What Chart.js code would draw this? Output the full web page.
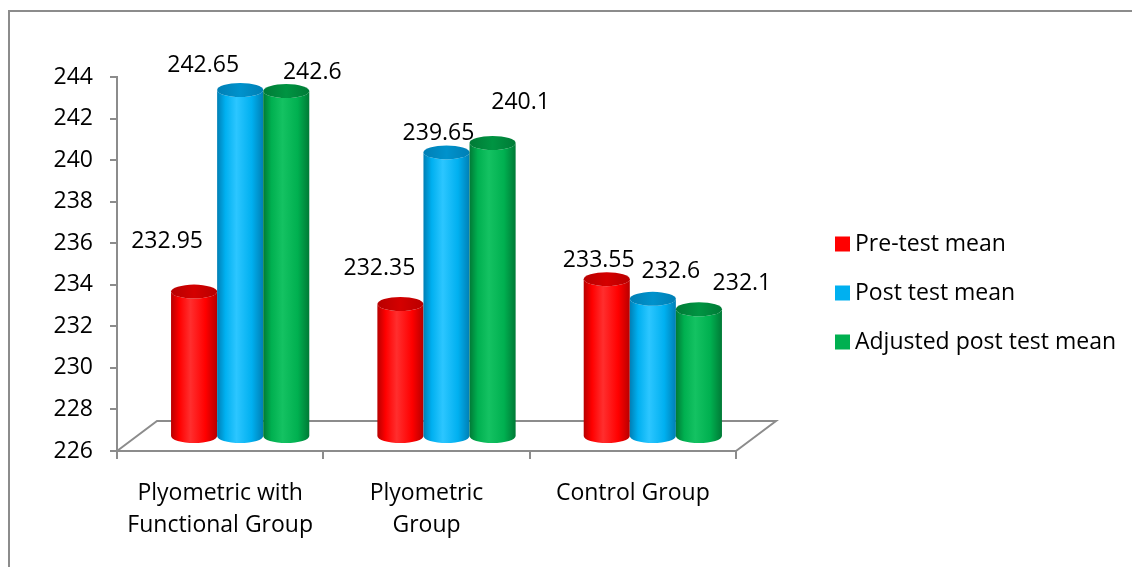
<!DOCTYPE html>
<html>
<head>
<meta charset="utf-8">
<script src="https://cdn.jsdelivr.net/npm/chart.js@4.4.1/dist/chart.umd.min.js"></script>
<style>
  html, body { margin: 0; padding: 0; background: #fff; }
  #wrap { width: 1132px; height: 567px; position: relative; }
</style>
</head>
<body>
<div id="wrap"><canvas id="myChart"></canvas></div>
<script>
// data
const categories = [['Plyometric with', 'Functional Group'], ['Plyometric', 'Group'], 'Control Group'];
const seriesNames = ['Pre-test mean', 'Post test mean', 'Adjusted post test mean'];
const preTest = [232.95, 232.35, 233.55];
const postTest = [242.65, 239.65, 232.6];
const adjustedPost = [242.6, 240.1, 232.1];
const yMin = 226, yMax = 244, yStep = 2;

const FONT = '"Open Sans", Lato, sans-serif';
const FSIZE = 23;
const GRAY = '#8c8c8c';
const DEPTH = { dx: 40, dy: -30 };   // 3d floor depth

// cylinder colours: edge / mid / light / top
const shades = [
    { edge: '#b80000', mid: '#ff0000', light: '#ff2e2e', top: '#d40000' },
    { edge: '#007fb5', mid: '#00b0f0', light: '#2cc6ff', top: '#0092cc' },
    { edge: '#007a36', mid: '#00b050', light: '#14c262', top: '#009442' }
];

// where excel put each value label, relative to the top of its cylinder [series][group]
const labelOffsets = [
    [[-27, -50], [-21, -36], [-8, -19]],
    [[-37, -25], [-8, -19], [18, -27]],
    [[26, -19], [28, -41], [43, -26]]
];

const frame = {
    id: 'frame',
    beforeDraw(chart) {
        const ctx = chart.ctx;
        ctx.save();
        ctx.strokeStyle = GRAY;
        ctx.lineWidth = 2;
        ctx.strokeRect(9, 11, 1140, 580);
        // floor of the 3d box
        const a = chart.chartArea;
        ctx.beginPath();
        ctx.moveTo(a.left, a.bottom);
        ctx.lineTo(a.left + DEPTH.dx, a.bottom + DEPTH.dy);
        ctx.lineTo(a.right + DEPTH.dx, a.bottom + DEPTH.dy);
        ctx.lineTo(a.right, a.bottom);
        ctx.stroke();
        ctx.restore();
    }
};

const cylinders = {
    id: 'cylinders',
    beforeDatasetDraw() {
        return false; // we draw the bars ourselves
    },
    afterDatasetsDraw(chart) {
        const ctx = chart.ctx;
        const basePx = chart.scales.y.getPixelForValue(yMin);
        ctx.save();
        chart.data.datasets.forEach((ds, i) => {
            const meta = chart.getDatasetMeta(i);
            const c = shades[i];
            meta.data.forEach((bar, j) => {
                const p = bar.getProps(['x', 'y', 'width'], true);
                const cx = p.x + DEPTH.dx / 2;
                const rx = p.width / 2;
                const ry = 7;
                const topY = p.y + DEPTH.dy / 2;
                const botY = basePx + DEPTH.dy / 2;

                const g = ctx.createLinearGradient(cx - rx, 0, cx + rx, 0);
                g.addColorStop(0, c.edge);
                g.addColorStop(0.18, c.mid);
                g.addColorStop(0.42, c.light);
                g.addColorStop(0.75, c.mid);
                g.addColorStop(1, c.edge);

                ctx.beginPath();
                ctx.moveTo(cx - rx, topY);
                ctx.lineTo(cx - rx, botY);
                ctx.ellipse(cx, botY, rx, ry, 0, Math.PI, 0, true);
                ctx.lineTo(cx + rx, topY);
                ctx.ellipse(cx, topY, rx, ry, 0, 0, Math.PI, false);
                ctx.closePath();
                ctx.fillStyle = g;
                ctx.fill();

                ctx.beginPath();
                ctx.ellipse(cx, topY, rx, ry, 0, 0, Math.PI * 2);
                const tg = ctx.createLinearGradient(cx - rx, 0, cx + rx, 0);
                tg.addColorStop(0, c.edge);
                tg.addColorStop(0.5, c.top);
                tg.addColorStop(1, c.edge);
                ctx.fillStyle = tg;
                ctx.fill();
            });
        });

        // value labels
        ctx.fillStyle = '#000';
        ctx.font = FSIZE + 'px ' + FONT;
        ctx.textAlign = 'center';
        ctx.textBaseline = 'middle';
        chart.data.datasets.forEach((ds, i) => {
            const meta = chart.getDatasetMeta(i);
            meta.data.forEach((bar, j) => {
                const p = bar.getProps(['x', 'y'], true);
                const off = labelOffsets[i][j];
                ctx.fillText(String(ds.data[j]), p.x + DEPTH.dx / 2 + off[0], p.y + DEPTH.dy / 2 + off[1]);
            });
        });
        ctx.restore();
    }
};

const sideLegend = {
    id: 'sideLegend',
    afterDraw(chart) {
        const ctx = chart.ctx;
        ctx.save();
        ctx.font = FSIZE + 'px ' + FONT;
        ctx.textBaseline = 'middle';
        ctx.textAlign = 'left';
        chart.data.datasets.forEach((ds, i) => {
            const cy = 244 + i * 49;
            ctx.fillStyle = ds.backgroundColor;
            ctx.fillRect(835, cy - 7.5, 15, 15);
            ctx.fillStyle = '#000';
            ctx.fillText(ds.label, 855, cy);
        });
        ctx.restore();
    }
};

const ctx = document.getElementById('myChart').getContext('2d');
const myChart = new Chart(ctx, {
    type: 'bar',
    data: {
        labels: categories,
        datasets: [
            { label: seriesNames[0], data: preTest, backgroundColor: '#ff0000' },
            { label: seriesNames[1], data: postTest, backgroundColor: '#00b0f0' },
            { label: seriesNames[2], data: adjustedPost, backgroundColor: '#00b050' }
        ]
    },
    options: {
        responsive: true,
        maintainAspectRatio: false,
        animation: false,
        devicePixelRatio: 1,
        categoryPercentage: 0.67,
        barPercentage: 1.0,
        layout: { padding: { left: 0, right: 396, top: 77, bottom: 0 } },
        plugins: {
            legend: { display: false },
            tooltip: { enabled: false }
        },
        scales: {
            x: {
                afterFit: s => { s.height = 116; },
                grid: { drawOnChartArea: false, tickLength: 8, color: GRAY, lineWidth: 2, offset: true },
                border: { color: GRAY, width: 2 },
                ticks: {
                    color: '#000',
                    padding: 18,
                    maxRotation: 0,
                    autoSkip: false,
                    font: { family: FONT, size: FSIZE, lineHeight: 1.4 }
                }
            },
            y: {
                min: yMin,
                max: yMax,
                afterFit: s => { s.width = 117; },
                grid: { drawOnChartArea: false, tickLength: 7, color: GRAY, lineWidth: 2 },
                border: { color: GRAY, width: 2 },
                ticks: {
                    stepSize: yStep,
                    color: '#000',
                    padding: 17,
                    font: { family: FONT, size: FSIZE }
                }
            }
        }
    },
    plugins: [frame, cylinders, sideLegend]
});
</script>
</body>
</html>
